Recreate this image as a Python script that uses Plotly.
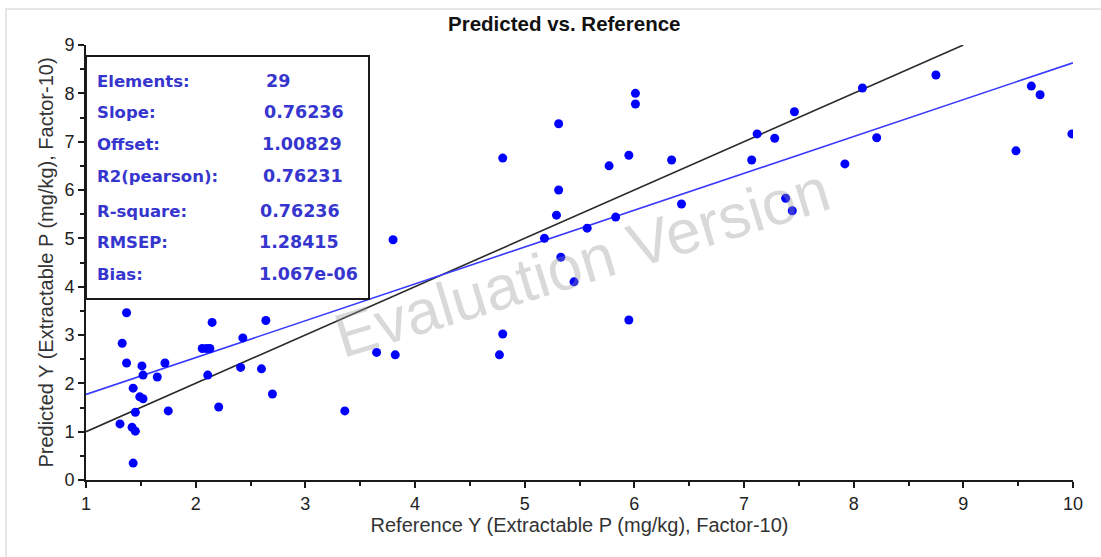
import plotly.graph_objects as go

# Reference vs. predicted values (Extractable P, mg/kg)
x_ref = [1.37, 1.33, 1.37, 1.51, 1.52, 1.43, 1.49, 1.52, 1.45, 1.31,
         1.42, 1.45, 1.43, 1.65, 1.72, 1.75, 2.06, 2.10, 2.13, 2.15,
         2.11, 2.21, 2.43, 2.41, 2.60, 2.64, 2.70, 3.36, 3.65, 3.80,
         3.82, 4.77, 4.80, 4.80, 5.18, 5.29, 5.31, 5.31, 5.33, 5.45,
         5.57, 5.77, 5.83, 5.95, 5.95, 6.01, 6.01, 6.34, 6.43, 7.07,
         7.12, 7.28, 7.38, 7.44, 7.46, 7.92, 8.08, 8.21, 8.75, 9.48,
         9.62, 9.70, 9.99]
y_pred = [3.46, 2.83, 2.42, 2.36, 2.17, 1.90, 1.72, 1.68, 1.40, 1.16,
          1.09, 1.01, 0.35, 2.13, 2.42, 1.43, 2.72, 2.72, 2.72, 3.26,
          2.17, 1.51, 2.94, 2.33, 2.30, 3.30, 1.78, 1.43, 2.64, 4.97,
          2.59, 2.59, 3.02, 6.66, 5.00, 5.48, 6.00, 7.37, 4.61, 4.10,
          5.21, 6.50, 5.44, 6.72, 3.31, 8.00, 7.78, 6.62, 5.71, 6.62,
          7.16, 7.07, 5.83, 5.57, 7.62, 6.54, 8.11, 7.08, 8.38, 6.81,
          8.15, 7.97, 7.16]

# Regression statistics
stat_labels = ["Elements:", "Slope:", "Offset:", "R2(pearson):",
               "R-square:", "RMSEP:", "Bias:"]
stat_values = ["29", "0.76236", "1.00829", "0.76231",
               "0.76236", "1.28415", "1.067e-06"]
slope = 0.76236
offset = 1.00829

# Target (1:1) line end points and regression line range
target_x = [1, 9]
fit_x = [1, 10]
fit_y = [slope * v + offset for v in fit_x]

fig = go.Figure()

fig.add_trace(go.Scatter(
    x=target_x, y=target_x, mode="lines",
    line=dict(color="#2a2a2a", width=1.6), hoverinfo="skip"))
fig.add_trace(go.Scatter(
    x=fit_x, y=fit_y, mode="lines",
    line=dict(color="#3a3aff", width=1.6), hoverinfo="skip"))
fig.add_trace(go.Scatter(
    x=x_ref, y=y_pred, mode="markers",
    marker=dict(color="#0000ff", size=9, line=dict(width=0))))

# Plot area spans 86..1073 px horizontally, 45..480 px vertically
L, R, T, B = 86, 1073, 45, 480


def px(xp):
    return (xp - L) / (R - L)


def py(yp):
    return (B - yp) / (B - T)


annotations = []
# Watermark
annotations.append(dict(
    x=px(582), y=py(262), xref="paper", yref="paper",
    text="Evaluation Version", showarrow=False, textangle=-17,
    font=dict(family="Liberation Sans, Arial", size=62,
              color="rgba(150,150,150,0.36)")))

# Statistics box text
row_y = [81, 112, 144, 176, 211, 242, 274]
value_x = [264, 262, 260, 261, 258, 257, 257]
for lab, val, yy, vx in zip(stat_labels, stat_values, row_y, value_x):
    annotations.append(dict(
        x=px(95), y=py(yy), xref="paper", yref="paper",
        text=lab, showarrow=False, xanchor="left", yanchor="middle",
        font=dict(family="DejaVu Sans", size=16.5, color="#3636cf",
                  weight="bold")))
    annotations.append(dict(
        x=px(vx), y=py(yy), xref="paper", yref="paper",
        text=val, showarrow=False, xanchor="left", yanchor="middle",
        font=dict(family="DejaVu Sans", size=17.5, color="#3636cf",
                  weight="bold")))

shapes = [
    # statistics box
    dict(type="rect", xref="paper", yref="paper",
         x0=px(86), x1=px(369), y0=py(299), y1=py(56),
         line=dict(color="#1a1a1a", width=2), fillcolor="white",
         layer="above"),
    # outer frame of the chart
    dict(type="rect", xref="paper", yref="paper",
         x0=px(6), x1=px(1110), y0=py(570), y1=py(9),
         line=dict(color="#e6e6e6", width=2), layer="below"),
]

axis_font = dict(family="Liberation Sans, Arial", size=20, color="#333333")
tick_font = dict(family="Liberation Sans Narrow, Liberation Sans, Arial",
                 size=18, color="#222222")

fig.update_layout(
    width=1101, height=557,
    margin=dict(l=L, r=1101 - R, t=T, b=557 - B),
    paper_bgcolor="white", plot_bgcolor="white",
    showlegend=False,
    title=dict(text="<b>Predicted vs. Reference</b>", x=0.5125, y=0.957,
               xanchor="center", yanchor="middle",
               font=dict(family="Liberation Sans, Arial",
                         size=20.5, color="#111111")),
    annotations=annotations,
    shapes=shapes,
)

fig.update_xaxes(
    range=[1, 10], dtick=1, tick0=1, showgrid=False, zeroline=False,
    showline=True, linecolor="#1a1a1a", linewidth=2,
    ticks="outside", ticklen=6, tickwidth=1.5, tickcolor="#1a1a1a",
    minor=dict(dtick=0.5, ticks="outside", ticklen=4, tickcolor="#1a1a1a",
               showgrid=False),
    tickfont=tick_font,
    title=dict(text="Reference Y (Extractable P (mg/kg), Factor-10)",
               font=axis_font, standoff=4),
)
fig.update_yaxes(
    range=[0, 9], dtick=1, tick0=0, showgrid=False, zeroline=False,
    showline=True, linecolor="#1a1a1a", linewidth=2,
    ticks="outside", ticklen=6, tickwidth=1.5, tickcolor="#1a1a1a",
    minor=dict(dtick=0.5, ticks="outside", ticklen=4, tickcolor="#1a1a1a",
               showgrid=False),
    tickfont=tick_font,
    title=dict(text="Predicted Y (Extractable P (mg/kg), Factor-10)",
               font=axis_font, standoff=5),
)

fig.write_html("out.html")
